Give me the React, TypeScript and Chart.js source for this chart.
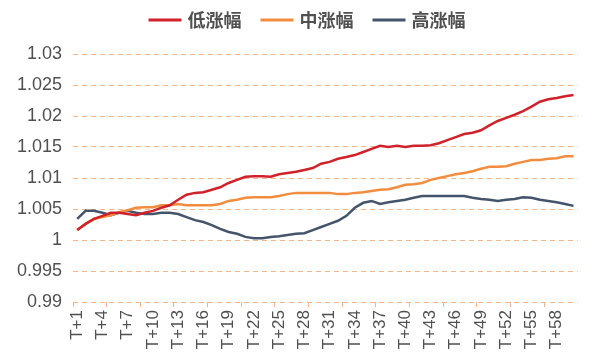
import React, { useEffect, useRef } from "react";
import { Chart, registerables } from "chart.js";

Chart.register(...registerables);

const categories: string[] = Array.from({ length: 60 }, (_, i) => `T+${i + 1}`);

const lowSeries: number[] = [
  1.0016, 1.0026, 1.0034, 1.0039, 1.0044, 1.0044, 1.0042, 1.004, 1.0044, 1.0047,
  1.0052, 1.0056, 1.0065, 1.0073, 1.0076, 1.0077, 1.0081, 1.0085, 1.0092, 1.0097,
  1.0102, 1.0103, 1.0103, 1.0102, 1.0106, 1.0108, 1.011, 1.0113, 1.0116, 1.0123,
  1.0126, 1.0131, 1.0134, 1.0137, 1.0142, 1.0147, 1.0152, 1.015, 1.0152, 1.015,
  1.0152, 1.0152, 1.0153, 1.0156, 1.0161, 1.0166, 1.0171, 1.0173, 1.0177, 1.0185,
  1.0192, 1.0197, 1.0202, 1.0208, 1.0215, 1.0223, 1.0227, 1.0229, 1.0232, 1.0234,
];

const midSeries: number[] = [
  1.0016, 1.0026, 1.0034, 1.0037, 1.004, 1.0045, 1.0048, 1.0052, 1.0053, 1.0053,
  1.0056, 1.0056, 1.0058, 1.0056, 1.0056, 1.0056, 1.0056, 1.0058, 1.0063, 1.0065,
  1.0068, 1.0069, 1.0069, 1.0069, 1.0071, 1.0074, 1.0076, 1.0076, 1.0076, 1.0076,
  1.0076, 1.0074, 1.0074, 1.0076, 1.0077, 1.0079, 1.0081, 1.0082, 1.0085, 1.0089,
  1.009, 1.0092, 1.0097, 1.01, 1.0103, 1.0106, 1.0108, 1.0111, 1.0115, 1.0118,
  1.0118, 1.0119, 1.0123, 1.0126, 1.0129, 1.0129, 1.0131, 1.0132, 1.0135, 1.0135,
];

const highSeries: number[] = [
  1.0034, 1.0047, 1.0047, 1.0044, 1.004, 1.0044, 1.0047, 1.0044, 1.0042, 1.0042,
  1.0044, 1.0044, 1.0042, 1.0037, 1.0032, 1.0029, 1.0024, 1.0018, 1.0013, 1.001,
  1.0005, 1.0003, 1.0003, 1.0005, 1.0006, 1.0008, 1.001, 1.0011, 1.0016, 1.0021,
  1.0026, 1.0031, 1.0039, 1.0052, 1.006, 1.0063, 1.0058, 1.0061, 1.0063, 1.0065,
  1.0068, 1.0071, 1.0071, 1.0071, 1.0071, 1.0071, 1.0071, 1.0068, 1.0066, 1.0065,
  1.0063, 1.0065, 1.0066, 1.0069, 1.0068, 1.0065, 1.0063, 1.0061, 1.0058, 1.0055,
];

const seriesNames: string[] = ["低涨幅", "中涨幅", "高涨幅"];
const seriesColors: string[] = ["#D0222A", "#F28C3E", "#44546A"];

const yMin = 0.99;
const yMax = 1.03;
const yStep = 0.005;

const GRID = "#F4B58A";
const TEXT = "#505050";

const legendPlugin = {
  id: "customLegend",
  afterDraw(chart: any) {
    const ctx = chart.ctx;
    ctx.save();
    ctx.font = "bold 18px 'Noto Sans CJK SC', sans-serif";
    const sw = 33;
    const gap = 6;
    const itemGap = 19;
    const widths = seriesNames.map((n) => ctx.measureText(n).width);
    const total = widths.reduce((a, w) => a + sw + gap + w, 0) + itemGap * (seriesNames.length - 1);
    let x = 307 - total / 2;
    const y = 20;
    seriesNames.forEach((n, i) => {
      ctx.strokeStyle = seriesColors[i];
      ctx.lineWidth = 3;
      ctx.beginPath();
      ctx.moveTo(x, y);
      ctx.lineTo(x + sw, y);
      ctx.stroke();
      x += sw + gap;
      ctx.fillStyle = TEXT;
      ctx.textBaseline = "middle";
      ctx.textAlign = "left";
      ctx.fillText(n, x, y);
      x += widths[i] + itemGap;
    });
    ctx.restore();
  },
};

export default function App() {
  const ref = useRef<HTMLCanvasElement | null>(null);

  useEffect(() => {
    document.body.style.margin = "0";
    if (!ref.current) return;
    const data = [lowSeries, midSeries, highSeries];
    const chart = new Chart(ref.current, {
      type: "line",
      data: {
        labels: categories,
        datasets: data.map((d, i) => ({
          label: seriesNames[i],
          data: d,
          borderColor: seriesColors[i],
          backgroundColor: seriesColors[i],
          borderWidth: 2.5,
          pointRadius: 0,
          tension: 0,
          fill: false,
        })),
      },
      options: {
        animation: false,
        responsive: false,
        maintainAspectRatio: false,
        layout: { padding: { top: 54, right: 8, left: 0, bottom: 0 } },
        plugins: {
          legend: { display: false },
          tooltip: { enabled: false },
        },
        scales: {
          x: {
            type: "category",
            offset: true,
            border: { display: false, dash: [5, 4] },
            grid: {
              offset: true,
              drawOnChartArea: false,
              drawTicks: true,
              tickLength: 5,
              color: (c: any) => (c.index % 4 === 0 ? GRID : "rgba(0,0,0,0)"),
            },
            ticks: {
              autoSkip: false,
              maxRotation: 90,
              minRotation: 90,
              padding: 3,
              color: TEXT,
              font: { family: "'Liberation Sans', sans-serif", size: 17 },
              callback: (_v: any, i: number) => (i % 3 === 0 ? categories[i] : ""),
            },
            afterFit: (s: any) => {
              s.height = 58;
            },
          },
          y: {
            min: yMin,
            max: yMax,
            border: { display: false, dash: [5, 4] },
            grid: {
              color: GRID,
              lineWidth: 1,
              drawTicks: false,
            },
            ticks: {
              stepSize: yStep,
              padding: 11,
              color: TEXT,
              font: { family: "'Liberation Sans', sans-serif", size: 18 },
              callback: (v: any) => String(Math.round(Number(v) * 1000) / 1000),
            },
            afterFit: (s: any) => {
              s.width = 73;
            },
          },
        },
      },
      plugins: [legendPlugin],
    } as any);
    return () => chart.destroy();
  }, []);

  return (
    <div style={{ position: "relative", width: 597, height: 360 }}>
      <canvas ref={ref} width={597} height={360} style={{ width: 597, height: 360 }} />
    </div>
  );
}
